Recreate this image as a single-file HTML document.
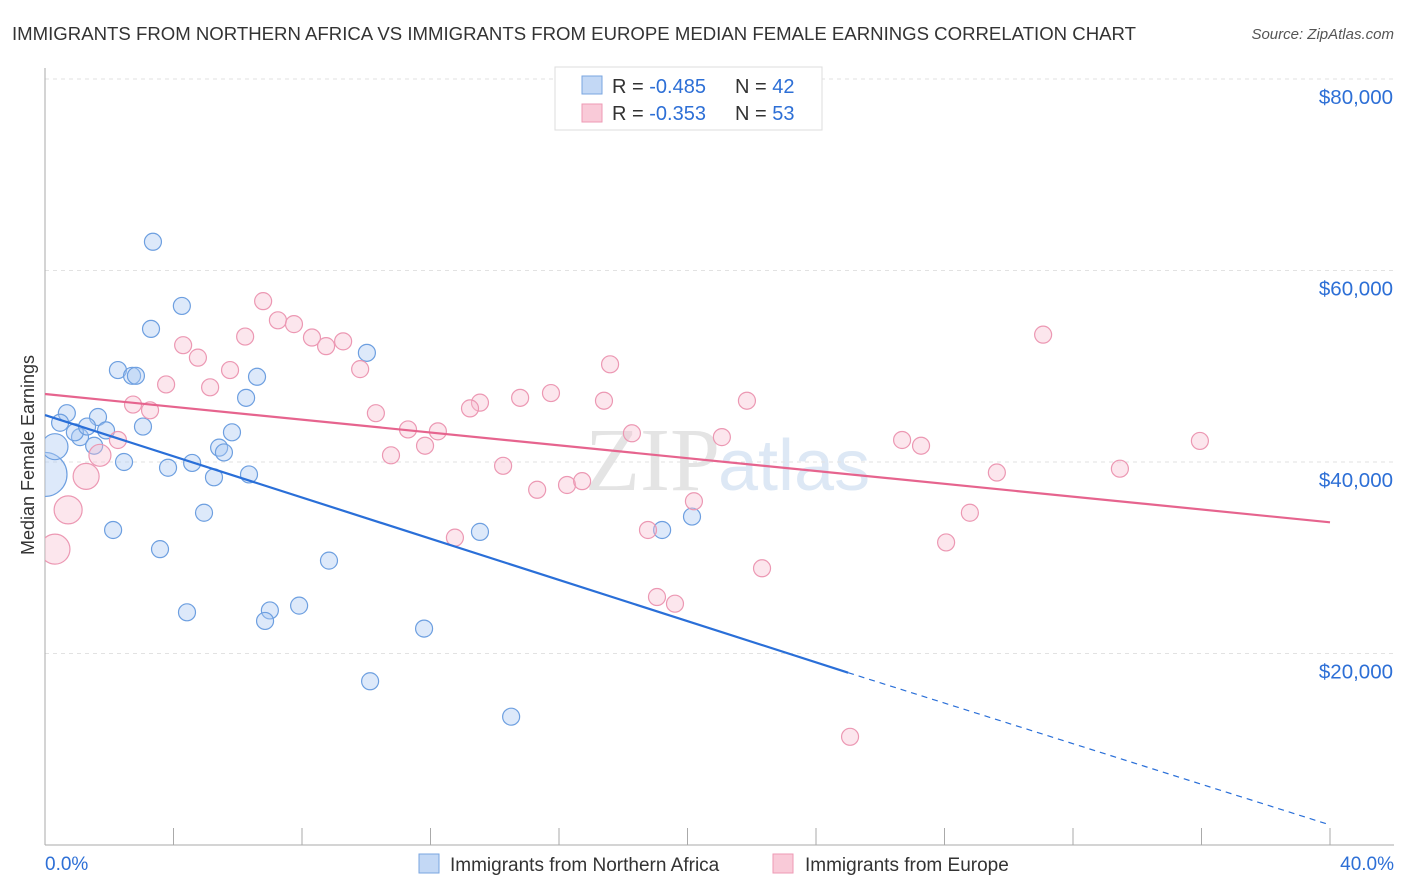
<!DOCTYPE html>
<html><head><meta charset="utf-8"><style>
body{margin:0;background:#fff;font-family:"Liberation Sans",sans-serif}
svg{display:block}
</style></head><body>
<svg id="c" width="1406" height="892" xmlns="http://www.w3.org/2000/svg">
<defs><clipPath id="plot"><rect x="45" y="60" width="1360" height="786"/></clipPath></defs>
<text x="12" y="40" font-size="18.6" fill="#333">IMMIGRANTS FROM NORTHERN AFRICA VS IMMIGRANTS FROM EUROPE MEDIAN FEMALE EARNINGS CORRELATION CHART</text>
<text x="1394" y="39" font-size="15" fill="#555" font-style="italic" text-anchor="end">Source: ZipAtlas.com</text>
<text x="720" y="490" font-size="90" fill="#e4e4e4" font-family="Liberation Serif" text-anchor="end">ZIP</text>
<text x="718" y="490" font-size="72" fill="#dde8f5">atlas</text>
<g id="grid"></g><g id="axes"></g><g id="pts" clip-path="url(#plot)"></g><g id="trend"></g>
<text x="34" y="455" font-size="18" fill="#333" text-anchor="middle" transform="rotate(-90 34 455)">Median Female Earnings</text>
<g>
<rect x="555" y="67" width="267" height="63" fill="#fff" stroke="#ddd"/>
<rect x="582" y="76" width="20" height="18" fill="#c3d8f5" stroke="#7aa6e0"/>
<rect x="582" y="104" width="20" height="18" fill="#f9cad8" stroke="#ee9ab4"/>
<text x="612" y="93" font-size="20" fill="#333">R = <tspan fill="#2d6fd6">-0.485</tspan></text>
<text x="735" y="93" font-size="20" fill="#333">N = <tspan fill="#2d6fd6">42</tspan></text>
<text x="612" y="120" font-size="20" fill="#333">R = <tspan fill="#2d6fd6">-0.353</tspan></text>
<text x="735" y="120" font-size="20" fill="#333">N = <tspan fill="#2d6fd6">53</tspan></text>
</g>
<g>
<rect x="419" y="854" width="20" height="19" fill="#c3d8f5" stroke="#7aa6e0"/>
<text x="450" y="871" font-size="19" fill="#333">Immigrants from Northern Africa</text>
<rect x="773" y="854" width="20" height="19" fill="#f9cad8" stroke="#ee9ab4"/>
<text x="805" y="871" font-size="19" fill="#333">Immigrants from Europe</text>
</g>
</svg>
<script>
const blueX=[3.36,4.26,3.30,10.02,2.27,2.71,2.83,6.60,6.26,0.68,1.65,0.47,3.05,1.90,5.82,1.09,1.53,5.42,5.57,2.46,4.58,3.83,6.35,5.26,0,0.31,4.95,2.12,13.54,19.21,20.14,3.58,8.84,4.42,7.00,6.85,7.91,11.80,10.12,14.51,0.93,1.31];
const blueY=[63.0,56.3,53.9,51.4,49.6,49.0,49.0,48.9,46.7,45.1,44.7,44.1,43.7,43.3,43.1,42.6,41.7,41.5,41.0,40.0,39.9,39.4,38.7,38.4,38.7,41.6,34.7,32.9,32.7,32.9,34.3,30.9,29.7,24.3,24.5,23.4,25.0,22.6,17.1,13.4,43.1,43.7];
const blueBig={24:22,25:13};
const pinkX=[6.79,7.25,7.75,4.30,6.23,8.31,8.75,9.28,4.76,5.76,9.81,17.59,3.77,5.14,31.07,15.75,14.79,13.54,13.23,17.40,21.85,2.74,3.27,10.30,11.30,12.23,11.83,18.27,21.07,26.68,27.27,35.95,2.27,1.71,10.77,14.26,33.46,29.63,15.32,16.25,16.72,1.28,20.20,0.72,0.31,28.79,12.76,18.77,28.05,22.32,19.05,19.61,25.06];
const pinkY=[56.8,54.8,54.4,52.2,53.1,53.0,52.1,52.6,50.9,49.6,49.7,50.2,48.1,47.8,53.3,47.2,46.7,46.2,45.6,46.4,46.4,46.0,45.4,45.1,43.4,43.2,41.7,43.0,42.6,42.3,41.7,42.2,42.3,40.7,40.7,39.6,39.3,38.9,37.1,37.6,38.0,38.5,35.9,35.0,30.9,34.7,32.1,32.9,31.6,28.9,25.9,25.2,11.3];
const pinkBig={41:13,43:14,44:15,33:11};
const yTicks=[20,40,60,80];
const yTickLabels=["$20,000","$40,000","$60,000","$80,000"];
const xTicks=[0,4,8,12,16,20,24,28,32,36,40];
const blueTrend=[[0,44.9],[25,18.0],[40,2.1]];
const pinkTrend=[[0,47.1],[40,33.7]];
const NS="http://www.w3.org/2000/svg";
const sx=v=>45+v*32.125, sy=v=>845-v*9.575;
function mk(p,t,a){const e=document.createElementNS(NS,t);for(const k in a)e.setAttribute(k,a[k]);document.getElementById(p).appendChild(e);return e;}
yTicks.forEach((v,i)=>{
 const l=mk('grid','line',{x1:45,x2:1394,y1:sy(v),y2:sy(v),stroke:'#e2e2e2','stroke-dasharray':'4,4'});
 
 
 const t=mk('grid','text',{x:1393,y:sy(v)+25,'font-size':20.5,fill:'#2d6fd6','text-anchor':'end'});
 t.textContent=yTickLabels[i];
 
 
});
mk('grid','line',{x1:45,x2:1394,y1:79,y2:79,stroke:'#e2e2e2','stroke-dasharray':'4,4'});
const ax=mk('axes','line',{x1:45,x2:45,y1:68,y2:845,stroke:'#aaa'});


const bx=mk('axes','line',{x1:45,x2:1394,y1:845,y2:845,stroke:'#aaa'});


xTicks.forEach(v=>{const t=mk('axes','line',{x1:sx(v),x2:sx(v),y1:828,y2:845,stroke:'#aaa'});
 
 });
const x0=mk('axes','text',{x:45,y:870,'font-size':19,fill:'#2d6fd6'});x0.textContent='0.0%';


const x1=mk('axes','text',{x:1394,y:870,'font-size':19,fill:'#2d6fd6','text-anchor':'end'});x1.textContent='40.0%';


blueX.forEach((v,i)=>{const c=mk('pts','circle',{cx:sx(v),cy:sy(blueY[i]),r:blueBig[i]||8.5,fill:'rgba(170,200,242,0.4)',stroke:'#6d9fe0','stroke-width':1.2});
 
 });
pinkX.forEach((v,i)=>{const c=mk('pts','circle',{cx:sx(v),cy:sy(pinkY[i]),r:pinkBig[i]||8.5,fill:'rgba(248,190,208,0.38)',stroke:'#ec98b3','stroke-width':1.2});
 
 });
const b1=mk('trend','line',{x1:sx(blueTrend[0][0]),y1:sy(blueTrend[0][1]),x2:sx(blueTrend[1][0]),y2:sy(blueTrend[1][1]),stroke:'#2a6fd8','stroke-width':2.2});


const b2=mk('trend','line',{x1:sx(blueTrend[1][0]),y1:sy(blueTrend[1][1]),x2:sx(blueTrend[2][0]),y2:sy(blueTrend[2][1]),stroke:'#2a6fd8','stroke-width':1.2,'stroke-dasharray':'6,5'});


const p1=mk('trend','line',{x1:sx(pinkTrend[0][0]),y1:sy(pinkTrend[0][1]),x2:sx(pinkTrend[1][0]),y2:sy(pinkTrend[1][1]),stroke:'#e6648e','stroke-width':2.2});


</script>
</body></html>
